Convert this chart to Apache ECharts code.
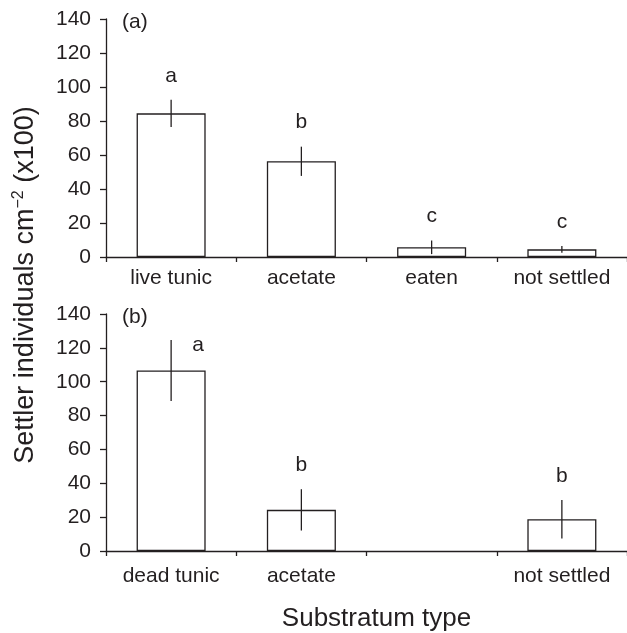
<!DOCTYPE html>
<html>
<head>
<meta charset="utf-8">
<script src="https://cdn.jsdelivr.net/npm/echarts@6/dist/echarts.min.js"></script>
<style>
  html, body { margin: 0; padding: 0; background: #fff; }
  #chart { width: 627px; height: 633px; }
</style>
</head>
<body>
<div id="chart"></div>
<script>
// panel (a): live tunic experiment
const categoriesA = ['live tunic', 'acetate', 'eaten', 'not settled'];
const meansA = [84.5, 56.3, 5.7, 4.5];
const errorsA = [8, 8.6, 4, 2];
const lettersA = ['a', 'b', 'c', 'c'];

// panel (b): dead tunic experiment (no "eaten" bar)
const categoriesB = ['dead tunic', 'acetate', '', 'not settled'];
const meansB = [106.6, 24.3, null, 18.8];
const errorsB = [18, 12.2, null, 11.4];
const lettersB = ['a', 'b', '', 'b'];

const yTicks = { min: 0, max: 140, interval: 20 };

const INK = '#231f20';
const FONT = '"Liberation Sans", Arial, Helvetica, sans-serif';

function errorData(means, errors) {
  return means.map((m, idx) => (m == null ? [idx, null, null] : [idx, m - errors[idx], m + errors[idx]]));
}

function errorSeries(axisIndex, means, errors, letters) {
  return {
    type: 'custom',
    xAxisIndex: axisIndex,
    yAxisIndex: axisIndex,
    z: 5,
    silent: true,
    data: errorData(means, errors),
    renderItem(params, api) {
      if (means[params.dataIndex] == null) return null;
      const lo = api.coord([api.value(0), api.value(1)]);
      const hi = api.coord([api.value(0), api.value(2)]);
      const gridTop = params.coordSys.y;
      // letter goes above the error bar, or beside it if that would leave the plot
      let tx = hi[0];
      let ty = hi[1] - 24;
      if (ty - 10 < gridTop) {
        tx = hi[0] + 27;
        ty = hi[1] + 5;
      }
      return {
        type: 'group',
        children: [
          {
            type: 'line',
            shape: { x1: lo[0], y1: lo[1], x2: hi[0], y2: hi[1] },
            style: { stroke: INK, lineWidth: 1.3 },
          },
          {
            type: 'text',
            x: tx,
            y: ty,
            style: {
              text: letters[params.dataIndex],
              fill: INK,
              font: '21px ' + FONT,
              align: 'center',
              verticalAlign: 'middle',
            },
          },
        ],
      };
    },
  };
}

function xAxis(gridIndex, cats, extra) {
  return Object.assign({
    type: 'category',
    gridIndex,
    data: cats,
    axisLine: { lineStyle: { color: INK, width: 1.3 } },
    axisTick: { show: true, length: 5, inside: false, lineStyle: { color: INK, width: 1.3 } },
    axisLabel: { color: INK, fontSize: 21, fontFamily: FONT, margin: 11, interval: 0 },
    splitLine: { show: false },
  }, extra);
}

function yAxis(gridIndex) {
  return {
    type: 'value',
    gridIndex,
    min: yTicks.min,
    max: yTicks.max,
    interval: yTicks.interval,
    axisLine: { show: true, lineStyle: { color: INK, width: 1.3 } },
    axisTick: { show: true, length: 6, lineStyle: { color: INK, width: 1.3 } },
    axisLabel: { color: INK, fontSize: 21, fontFamily: FONT, margin: 15 },
    splitLine: { show: false },
  };
}

function barSeries(axisIndex, means) {
  return {
    type: 'bar',
    xAxisIndex: axisIndex,
    yAxisIndex: axisIndex,
    data: means,
    barWidth: '53%',
    itemStyle: { color: '#fff', borderColor: INK, borderWidth: 1.3 },
    silent: true,
  };
}

const chart = echarts.init(document.getElementById('chart'), null, { renderer: 'canvas' });

chart.setOption({
  animation: false,
  backgroundColor: '#fff',
  grid: [
    { left: 106, right: 0, top: 19, height: 238 },
    { left: 106, right: 0, top: 314, height: 238 },
  ],
  xAxis: [
    xAxis(0, categoriesA),
    xAxis(1, categoriesB, {
      axisLabel: { color: INK, fontSize: 21, fontFamily: FONT, margin: 15, interval: 0 },
      name: 'Substratum type',
      nameLocation: 'middle',
      nameGap: 55,
      nameTextStyle: { color: INK, fontSize: 26, fontFamily: FONT, padding: [0, 0, 0, 20] },
    }),
  ],
  yAxis: [yAxis(0), yAxis(1)],
  graphic: [
    {
      type: 'text', left: 122, top: 12,
      style: { text: '(a)', fill: INK, font: '21px ' + FONT },
    },
    {
      type: 'text', left: 122, top: 307,
      style: { text: '(b)', fill: INK, font: '21px ' + FONT },
    },
    {
      type: 'text',
      x: 26,
      y: 285,
      rotation: Math.PI / 2,
      style: {
        text: '{n|Settler individuals cm}{s|\u22122}{n| (x100)}',
        fill: INK,
        align: 'center',
        verticalAlign: 'middle',
        rich: {
          n: { fontSize: 27, fontFamily: FONT, fill: INK, lineHeight: 31 },
          s: { fontSize: 16, fontFamily: FONT, fill: INK, verticalAlign: 'top', lineHeight: 31 },
        },
      },
    },
  ],
  series: [
    barSeries(0, meansA),
    errorSeries(0, meansA, errorsA, lettersA),
    barSeries(1, meansB),
    errorSeries(1, meansB, errorsB, lettersB),
  ],
});
</script>
</body>
</html>
